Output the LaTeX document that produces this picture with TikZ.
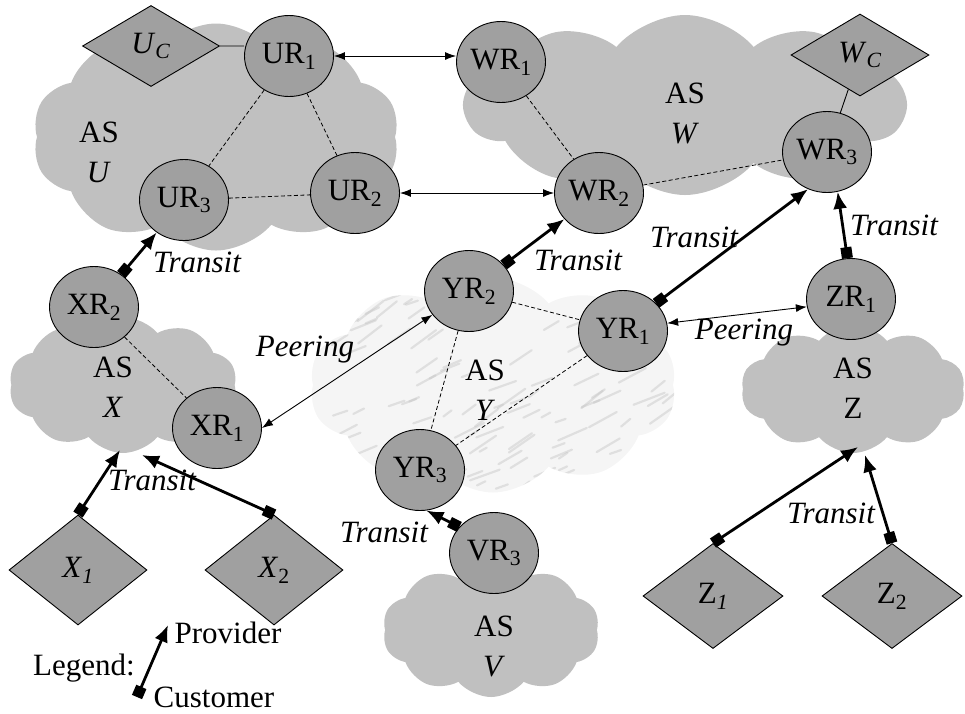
\documentclass[tikz,border=0pt]{standalone}
\usepackage{fontspec}
\setmainfont{Liberation Serif}
\usetikzlibrary{arrows.meta,shapes.geometric,shapes.symbols}
\definecolor{cloudgray}{RGB}{192,192,192}
\definecolor{routergray}{RGB}{160,160,160}
\tikzset{>={Latex[length=11pt,width=8pt]}}
\tikzset{
  router/.style={ellipse,draw,line width=0.9pt,fill=routergray,minimum width=89pt,minimum height=81pt,inner sep=0pt},
  site/.style={diamond,draw,line width=0.9pt,fill=routergray,inner sep=0pt,aspect=1},
  ascloud/.style={cloud,cloud puffs=10,cloud puff arc=100,cloud ignores aspect,fill=cloudgray,inner sep=0pt},
  aslabel/.style={align=center},
  rel/.style={font=\fontsize{31}{40}\selectfont\itshape},
  ibgp/.style={line width=0.8pt,dash pattern=on 4pt off 2.5pt},
  attach/.style={line width=0.9pt},
  peer/.style={<->,line width=0.9pt},
  transit/.style={{Square[length=11pt,width=11pt]}-{Latex[length=17pt,width=14pt]},line width=2.8pt}
}

\begin{document}
\begin{tikzpicture}[x=1pt,y=-1pt,font=\fontsize{31}{40}\selectfont]
  \useasboundingbox (0,0) rectangle (965,713);
  \node[ascloud,minimum width=367pt,minimum height=227pt] (asU) at (216,137) {};
  \node[ascloud,minimum width=440pt,minimum height=180pt] (asW) at (685,105) {};
  \node[ascloud,minimum width=228pt,minimum height=136pt] (asX) at (123,385) {};
  \node[ascloud,minimum width=224pt,minimum height=128pt] (asZ) at (853,389) {};
  \node[ascloud,minimum width=217pt,minimum height=134pt] (asV) at (491,630) {};
  \node[ascloud,fill=gray!8,minimum width=367pt,minimum height=215pt,
    path picture={
      \pgfmathsetseed{7}
      \foreach \k in {1,...,140}{
        \pgfmathsetmacro\mx{rnd*380}
        \pgfmathsetmacro\my{rnd*225}
        \pgfmathsetmacro\ml{8+rnd*26}
        \pgfmathsetmacro\ma{18+rnd*22}
        \draw[gray!45,line width=2.2pt,opacity=.45,line cap=round]
          ([shift={(\mx pt,\my pt)}]path picture bounding box.south west) -- ++(\ma:\ml pt);
      }
    }] (asY) at (493,385) {};

  \node[aslabel] (lblU) at (99,152) {AS\\\textit{U}};
  \node[aslabel] (lblW) at (685,113) {AS\\\textit{W}};
  \node[aslabel] (lblX) at (113,387) {AS\\\textit{X}};
  \node[aslabel] (lblY) at (485,390) {AS\\\textit{Y}};
  \node[aslabel] (lblZ) at (853,388) {AS\\Z};
  \node[aslabel] (lblV) at (494,646) {AS\\\textit{V}};

  \node[site,minimum width=137pt,minimum height=81pt] (UC) at (151,46) {\textit{U}\textsubscript{\textit{C}}};
  \node[site,minimum width=138pt,minimum height=82pt] (WC) at (860,55) {\textit{W}\textsubscript{\textit{C}}};
  \node[site,minimum width=138pt,minimum height=110pt] (X1) at (78,570) {\textit{X}\textsubscript{\textit{1}}};
  \node[site,minimum width=138pt,minimum height=110pt] (X2) at (274,570) {\textit{X}\textsubscript{2}};
  \node[site,minimum width=140pt,minimum height=105pt] (Z1) at (713,596) {Z\textsubscript{\textit{1}}};
  \node[site,minimum width=140pt,minimum height=105pt] (Z2) at (892,596) {Z\textsubscript{2}};

  \node[router] (UR1) at (289,56) {UR\textsubscript{1}};
  \node[router] (UR2) at (355,193) {UR\textsubscript{2}};
  \node[router] (UR3) at (184,200) {UR\textsubscript{3}};
  \node[router] (WR1) at (501,62) {WR\textsubscript{1}};
  \node[router] (WR2) at (599,193) {WR\textsubscript{2}};
  \node[router] (WR3) at (827,152) {WR\textsubscript{3}};
  \node[router] (XR2) at (94,307) {XR\textsubscript{2}};
  \node[router] (XR1) at (217,428) {XR\textsubscript{1}};
  \node[router] (YR2) at (469,291) {YR\textsubscript{2}};
  \node[router] (YR1) at (623,331) {YR\textsubscript{1}};
  \node[router] (YR3) at (420,470) {YR\textsubscript{3}};
  \node[router] (ZR1) at (851,299) {ZR\textsubscript{1}};
  \node[router] (VR3) at (494,553) {VR\textsubscript{3}};

  \coordinate (xin1) at (120,450);
  \coordinate (xin2) at (142,455);
  \coordinate (zin1) at (858,447);
  \coordinate (zin2) at (865,455);
  \coordinate (cust) at (137,697);
  \coordinate (prov) at (168,625);

  \draw[ibgp] (UR1) -- (UR2) (UR1) -- (UR3) (UR3) -- (UR2)
    (WR1) -- (WR2) (WR2) -- (WR3) (XR2) -- (XR1)
    (YR2) -- (YR1) (YR2) -- (YR3) (YR1) -- (YR3);
  \draw[attach] (UC.east) -- (UC.east -| UR1.west) (WC) -- (WR3);
  \draw[peer] (UR1) -- (UR1 -| WR1.west);
  \draw[peer] (UR2) -- (WR2);
  \draw[peer] (XR1.east) -- (YR2.213);
  \draw[peer] (YR1.10) -- (ZR1.190);

  \draw[transit] (XR2) -- (UR3);
  \draw[transit] (YR2) -- (WR2);
  \draw[transit] (YR1.40) -- (WR3.243);
  \draw[transit] (ZR1.95) -- (WR3.285);
  \draw[transit] (VR3.143) -- (YR3.279);
  \draw[transit] (X1.north) -- (xin1);
  \draw[transit] (X2.north) -- (xin2);
  \draw[transit] (Z1.north) -- (zin1);
  \draw[transit] (Z2.north) -- (zin2);
  \draw[transit] (cust) -- (prov);

  \node[rel] (tUX) at (197,262) {Transit};
  \node[rel] (tWY) at (578,260) {Transit};
  \node[rel] (tWY1) at (694,237) {Transit};
  \node[rel] (tWZ) at (894,225) {Transit};
  \node[rel] (tX) at (152,480) {Transit};
  \node[rel] (tYV) at (384,532) {Transit};
  \node[rel] (tZ) at (831,513) {Transit};
  \node[rel] (pXY) at (305,350) {Peering};
  \node[rel] (pYZ) at (744,333) {Peering};

  \node (legend) at (84,668) {Legend:};
  \node (legProv) at (228,633) {Provider};
  \node (legCust) at (214,697) {Customer};
\end{tikzpicture}
\end{document}
